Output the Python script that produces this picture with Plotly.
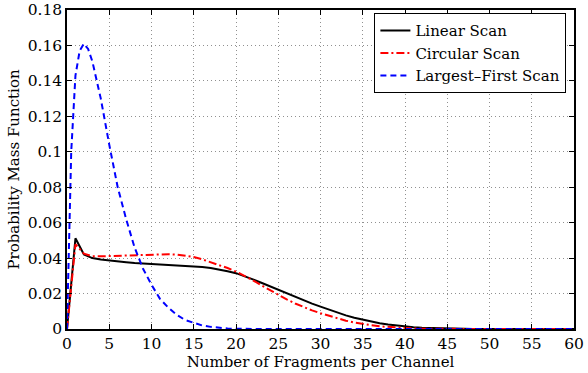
import plotly.graph_objects as go

# ---- data ----
x_int = list(range(0, 61))

linear_scan = [0, 0.0512, 0.0420, 0.0400, 0.0392, 0.0386, 0.0381, 0.0377, 0.0373, 0.0370,
               0.0367, 0.0365, 0.0363, 0.0361, 0.0358, 0.0355, 0.0350, 0.0344, 0.0336, 0.0326,
               0.0315, 0.0299, 0.0280, 0.0261, 0.0241, 0.0220, 0.0200, 0.0180, 0.0161, 0.0143,
               0.0126, 0.0109, 0.0092, 0.0077, 0.0064, 0.0052, 0.0041, 0.0032, 0.0025, 0.0019,
               0.0014, 0.0010, 0.0007, 0.0005, 0.0003, 0.0002, 0.0001, 0.0001, 0, 0,
               0, 0, 0, 0, 0, 0, 0, 0, 0, 0, 0]

circular_scan = [0, 0.0478, 0.0425, 0.0410, 0.0410, 0.0412, 0.0414, 0.0416, 0.0418, 0.0420,
                 0.0421, 0.0422, 0.0422, 0.0420, 0.0415, 0.0406, 0.0393, 0.0378, 0.0362, 0.0344,
                 0.0324, 0.0300, 0.0275, 0.0247, 0.0219, 0.0192, 0.0167, 0.0144, 0.0123, 0.0105,
                 0.0089, 0.0074, 0.0060, 0.0047, 0.0037, 0.0028, 0.0021, 0.0015, 0.0011, 0.0007,
                 0.0005, 0.0003, 0.0002, 0.0001, 0, 0, 0, 0, 0, 0,
                 0, 0, 0, 0, 0, 0, 0, 0, 0, 0, 0]

x_largest = [0, 0.25, 0.5, 1, 1.5, 2, 2.5, 3, 4, 5, 6, 7, 8, 9, 10, 11, 12, 13, 14, 15,
             16, 17, 18, 19, 20] + list(range(21, 61))
largest_first_scan = [0, 0.060, 0.100, 0.143, 0.157, 0.161, 0.158, 0.151, 0.130, 0.104,
                      0.080, 0.062, 0.046, 0.034, 0.025, 0.017, 0.012, 0.008, 0.005, 0.0035,
                      0.002, 0.0012, 0.0006, 0.0003, 0.0001] + [0] * 40

x_ticks = list(range(0, 61, 5))
y_ticks = [0, 0.02, 0.04, 0.06, 0.08, 0.1, 0.12, 0.14, 0.16, 0.18]
y_tick_text = ["0", "0.02", "0.04", "0.06", "0.08", "0.1", "0.12", "0.14", "0.16", "0.18"]

FONT = "DejaVu Serif"

fig = go.Figure()
fig.add_trace(go.Scatter(x=x_int, y=linear_scan, mode="lines", name="Linear Scan",
                         line=dict(color="black", width=2)))
fig.add_trace(go.Scatter(x=x_int, y=circular_scan, mode="lines", name="Circular Scan",
                         line=dict(color="#ff0000", width=2, dash="8px,3px,2px,3px")))
fig.add_trace(go.Scatter(x=x_largest, y=largest_first_scan, mode="lines", name="Largest\u2013First Scan",
                         line=dict(color="#0000ff", width=2, dash="6px,4px")))

axis_common = dict(
    showline=True, linecolor="black", linewidth=1.5, mirror="ticks",
    ticks="inside", ticklen=5, tickcolor="black", tickwidth=1,
    showgrid=True, gridcolor="#909090", griddash="1px,3px", gridwidth=1,
    zeroline=False, automargin=False,
    tickfont=dict(family=FONT, size=15.5, color="black"),
)

fig.update_xaxes(range=[0, 60], tickvals=x_ticks,
                 title=dict(text="Number of Fragments per Channel",
                            font=dict(family=FONT, size=15, color="black"), standoff=0),
                 **axis_common)
fig.update_yaxes(range=[0, 0.18], tickvals=y_ticks, ticktext=y_tick_text,
                 title=dict(text="Probability Mass Function",
                            font=dict(family=FONT, size=15, color="black"), standoff=4),
                 **axis_common)

fig.update_layout(
    width=588, height=373,
    margin=dict(l=67, r=14, t=10, b=44),
    paper_bgcolor="white", plot_bgcolor="white",
    font=dict(family=FONT, color="black"),
    legend=dict(x=0.985, y=0.99, xanchor="right", yanchor="top",
                bgcolor="white", bordercolor="black", borderwidth=1,
                font=dict(family=FONT, size=15, color="black"),
                tracegroupgap=0, itemwidth=30),
)

fig.write_html("out.html")
